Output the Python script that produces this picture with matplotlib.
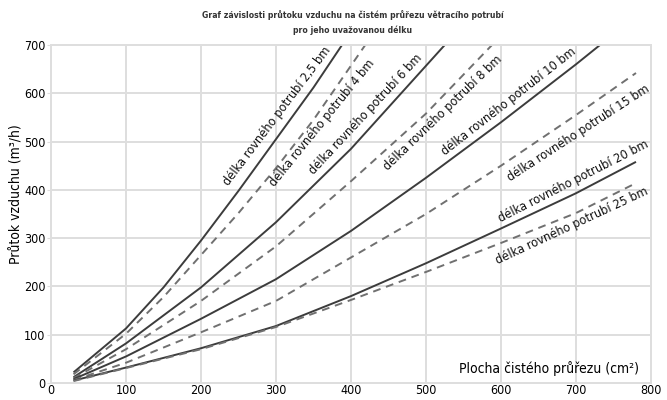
import numpy as np
import matplotlib
matplotlib.use("Agg")
import matplotlib.pyplot as plt
from matplotlib import font_manager as fm

# plocha cisteho prurezu (cm2) / prutok vzduchu (m3/h), cteno z grafu
x_2_5 = [30, 100, 150, 200, 250, 300, 350, 388]
y_2_5 = [22, 113, 198, 295, 398, 505, 612, 700]

x_4 = [30, 100, 150, 200, 250, 300, 350, 419]
y_4 = [18, 102, 178, 265, 352, 445, 545, 700]

x_6 = [30, 100, 200, 300, 400, 525]
y_6 = [12, 82, 198, 333, 485, 700]

x_8 = [30, 100, 200, 300, 400, 500, 588]
y_8 = [10, 70, 170, 283, 418, 558, 700]

x_10 = [30, 100, 200, 300, 400, 500, 600, 700, 732]
y_10 = [8, 55, 133, 215, 315, 425, 540, 660, 700]

x_15 = [30, 100, 200, 300, 400, 500, 600, 700, 780]
y_15 = [6, 42, 105, 170, 260, 350, 450, 555, 642]

x_20 = [30, 100, 200, 300, 400, 500, 600, 700, 780]
y_20 = [5, 32, 72, 118, 180, 248, 320, 393, 458]

x_25 = [30, 100, 200, 300, 400, 500, 600, 700, 780]
y_25 = [4, 31, 70, 116, 172, 230, 290, 352, 414]

series = [
    ("2,5", x_2_5, y_2_5, "-"),
    ("4", x_4, y_4, "--"),
    ("6", x_6, y_6, "-"),
    ("8", x_8, y_8, "--"),
    ("10", x_10, y_10, "-"),
    ("15", x_15, y_15, "--"),
    ("20", x_20, y_20, "-"),
    ("25", x_25, y_25, "--"),
]

# popisky: stred (x, y) a uhel
label_pos = {
    "2,5": (302, 553, 53),
    "4": (362, 538, 51),
    "6": (419, 557, 47),
    "8": (522, 560, 44),
    "10": (610, 582, 38),
    "15": (703, 517, 33),
    "20": (697, 418, 27),
    "25": (694, 325, 25),
}


# hledani uzkeho pisma (condensed / narrow), jinak DejaVu Sans
def find_font(bold=False):
    best = None
    for f in fm.fontManager.ttflist:
        nm = (f.name + " " + f.fname).lower()
        if not ("condensed" in nm or "narrow" in nm):
            continue
        if "semicondensed" in nm or "semi" in nm or "extra" in nm or "ultra" in nm:
            continue
        if f.style != "normal":
            continue
        w = f.weight if isinstance(f.weight, int) else (700 if "bold" in str(f.weight) else 400)
        if bold and w < 600:
            continue
        if not bold and w != 400:
            continue
        rank = 5
        for i, key in enumerate(["liberation", "dejavu", "roboto", "noto", "open"]):
            if key in nm:
                rank = i
                break
        if best is None or rank < best[0]:
            best = (rank, f.fname)
    return best[1] if best else None


reg = find_font(False)
bld = find_font(True)
fp = fm.FontProperties(fname=reg) if reg else fm.FontProperties(family="DejaVu Sans")
fpb = fm.FontProperties(fname=bld) if bld else fm.FontProperties(family="DejaVu Sans", weight="bold")


def F(p, size):
    q = p.copy()
    q.set_size(size)
    return q


fig = plt.figure(figsize=(6.67, 4), dpi=100)
ax = fig.add_axes([0.0765, 0.0425, 0.8995, 0.845])

for name, xs, ys, ls in series:
    if ls == "-":
        ax.plot(xs, ys, color="#3c3c3c", lw=1.4, solid_capstyle="butt")
    else:
        ax.plot(xs, ys, color="#707070", lw=1.4, dashes=(4, 3))
    lx, ly, rot = label_pos[name]
    ax.text(lx, ly, f"délka rovného potrubí {name} bm", rotation=rot,
            rotation_mode="anchor", ha="center", va="center",
            fontproperties=F(fp, 9.2), color="#111111")

ax.set_xlim(0, 800)
ax.set_ylim(0, 700)
ax.set_xticks(np.arange(0, 801, 100))
ax.set_yticks(np.arange(0, 701, 100))
ax.grid(True, color="#dedede", lw=1.4)
ax.set_axisbelow(True)
for s in ax.spines.values():
    s.set_color("#dedede")
    s.set_linewidth(1.4)
ax.tick_params(axis="y", length=3, color="#dedede", pad=1)
ax.tick_params(axis="x", length=0, pad=1)
for t in ax.get_xticklabels() + ax.get_yticklabels():
    t.set_fontproperties(F(fp, 9))

ax.text(664, 31, "Plocha čistého průřezu (cm²)", ha="center", va="center",
        fontproperties=F(fp, 10))
fig.text(0.024, 0.515, "Průtok vzduchu (m³/h)", rotation=90,
         ha="center", va="center", fontproperties=F(fp, 10))
fig.text(0.529, 0.962, "Graf závislosti průtoku vzduchu na čistém průřezu větracího potrubí",
         ha="center", va="center", fontproperties=F(fpb, 6.2), color="#333333")
fig.text(0.529, 0.925, "pro jeho uvažovanou délku",
         ha="center", va="center", fontproperties=F(fpb, 6.2), color="#333333")

fig.savefig("out.png", dpi=100)
